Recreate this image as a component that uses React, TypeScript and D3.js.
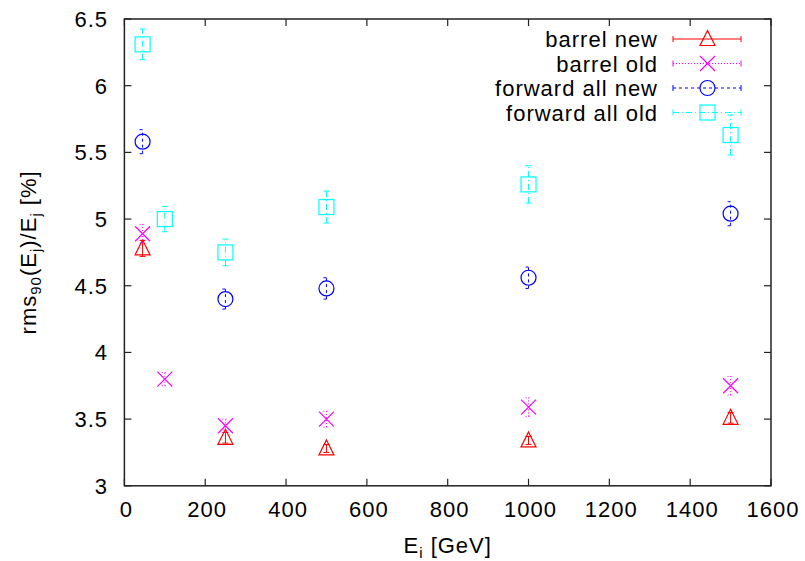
import React from "react";
import {scaleLinear, range} from "d3";

// energies [GeV], rms90/E [%] and errors for each series
const barrelNewE = [45, 250, 500, 1000, 1500];
const barrelNewRms = [4.78, 3.36, 3.28, 3.34, 3.51];
const barrelNewErr = [0.06, 0.04, 0.03, 0.03, 0.04];

const barrelOldE = [45, 100, 250, 500, 1000, 1500];
const barrelOldRms = [4.89, 3.80, 3.45, 3.50, 3.59, 3.75];
const barrelOldErr = [0.07, 0.05, 0.05, 0.06, 0.07, 0.07];

const fwdNewE = [45, 250, 500, 1000, 1500];
const fwdNewRms = [5.58, 4.40, 4.48, 4.56, 5.04];
const fwdNewErr = [0.09, 0.075, 0.08, 0.08, 0.09];

const fwdOldE = [45, 100, 250, 500, 1000, 1500];
const fwdOldRms = [6.31, 5.00, 4.75, 5.09, 5.26, 5.63];
const fwdOldErr = [0.115, 0.095, 0.1, 0.12, 0.14, 0.15];

const xTicks = [0, 200, 400, 600, 800, 1000, 1200, 1400, 1600];
const yTicks = [3, 3.5, 4, 4.5, 5, 5.5, 6, 6.5];

const series = [
  {name: "barrel new", color: "#ff0000", dash: "none", marker: "triangle", e: barrelNewE, v: barrelNewRms, err: barrelNewErr},
  {name: "barrel old", color: "#ff00ff", dash: "1,2", marker: "cross", e: barrelOldE, v: barrelOldRms, err: barrelOldErr},
  {name: "forward all new", color: "#0000ff", dash: "3,3", marker: "circle", e: fwdNewE, v: fwdNewRms, err: fwdNewErr},
  {name: "forward all old", color: "#00ffff", dash: "6,3,1,3", marker: "square", e: fwdOldE, v: fwdOldRms, err: fwdOldErr},
];

const FONT = "Liberation Sans, Arial, Helvetica, sans-serif";

function Marker({type, x, y, color}) {
  const s = 7.5;
  if (type === "triangle") {
    return <path d={`M${x},${y - s - 1}L${x + s},${y + s - 1}L${x - s},${y + s - 1}Z`} fill="none" stroke={color} strokeWidth={1.2}/>;
  }
  if (type === "cross") {
    return <path d={`M${x - s},${y - s}L${x + s},${y + s}M${x - s},${y + s}L${x + s},${y - s}`} stroke={color} strokeWidth={1.2}/>;
  }
  if (type === "circle") {
    return <circle cx={x} cy={y} r={s} fill="none" stroke={color} strokeWidth={1.2}/>;
  }
  return <rect x={x - s} y={y - s} width={2 * s} height={2 * s} fill="none" stroke={color} strokeWidth={1.2}/>;
}

export default function App() {
  const width = 805;
  const height = 561;
  const left = 124.4, right = 771, top = 19, bottom = 485.8;

  const xScale = scaleLinear().domain([0, 1600]).range([left, right]);
  const yScale = scaleLinear().domain([3, 6.5]).range([bottom, top]);
  const tick = 7;
  const cap = 3;

  const legendY = range(series.length).map(i => 39 + i * 24.5);

  return (
    <svg width={width} height={height} style={{position: "absolute", left: 0, top: 0, background: "white"}} fontFamily={FONT}>
      {/* ticks on all four sides */}
      {xTicks.map(t => (
        <g key={"x" + t}>
          <line x1={xScale(t)} x2={xScale(t)} y1={bottom} y2={bottom - tick} stroke="#222" strokeWidth={1.2}/>
          <line x1={xScale(t)} x2={xScale(t)} y1={top} y2={top + tick} stroke="#222" strokeWidth={1.2}/>
          <text x={xScale(t) + 2} y={bottom + 31} textAnchor="middle" fontSize={22} letterSpacing={1}>{t}</text>
        </g>
      ))}
      {yTicks.map(t => (
        <g key={"y" + t}>
          <line x1={left} x2={left + tick} y1={yScale(t)} y2={yScale(t)} stroke="#222" strokeWidth={1.2}/>
          <line x1={right} x2={right - tick} y1={yScale(t)} y2={yScale(t)} stroke="#222" strokeWidth={1.2}/>
          <text x={108} y={yScale(t) + 8} textAnchor="end" fontSize={22} letterSpacing={1}>{t}</text>
        </g>
      ))}
      <rect x={left} y={top} width={right - left} height={bottom - top} fill="none" stroke="#222" strokeWidth={1.5}/>

      {/* data */}
      {series.map(s => (
        <g key={s.name}>
          {s.e.map((e, i) => {
            const x = xScale(e);
            const y0 = yScale(s.v[i] - s.err[i]);
            const y1 = yScale(s.v[i] + s.err[i]);
            return (
              <g key={e}>
                <line x1={x} x2={x} y1={y0} y2={y1} stroke={s.color} strokeWidth={1} strokeDasharray={s.dash}/>
                <line x1={x - cap} x2={x + cap} y1={y0} y2={y0} stroke={s.color} strokeWidth={1} strokeDasharray={s.dash}/>
                <line x1={x - cap} x2={x + cap} y1={y1} y2={y1} stroke={s.color} strokeWidth={1} strokeDasharray={s.dash}/>
                <Marker type={s.marker} x={x} y={yScale(s.v[i])} color={s.color}/>
              </g>
            );
          })}
        </g>
      ))}

      {/* legend */}
      {series.map((s, i) => (
        <g key={"leg" + s.name}>
          <text x={658} y={legendY[i] + 8} textAnchor="end" fontSize={22} letterSpacing={1}>{s.name}</text>
          <line x1={673} x2={741} y1={legendY[i]} y2={legendY[i]} stroke={s.color} strokeWidth={1} strokeDasharray={s.dash}/>
          <line x1={673} x2={673} y1={legendY[i] - 3} y2={legendY[i] + 3} stroke={s.color} strokeWidth={1}/>
          <line x1={741} x2={741} y1={legendY[i] - 3} y2={legendY[i] + 3} stroke={s.color} strokeWidth={1}/>
          <Marker type={s.marker} x={707.5} y={legendY[i]} color={s.color}/>
        </g>
      ))}

      {/* axis labels */}
      <text x={(left + right) / 2} y={553} textAnchor="middle" fontSize={22} letterSpacing={1}>
        E<tspan fontSize={15} dy={5}>i</tspan><tspan dy={-5}> [GeV]</tspan>
      </text>
      <text transform={`translate(36, ${(top + bottom) / 2}) rotate(-90)`} textAnchor="middle" fontSize={22} letterSpacing={1}>
        rms<tspan fontSize={15} dy={5}>90</tspan><tspan dy={-5}>(E</tspan><tspan fontSize={15} dy={5}>j</tspan><tspan dy={-5}>)/E</tspan><tspan fontSize={15} dy={5}>j</tspan><tspan dy={-5}> [%]</tspan>
      </text>
    </svg>
  );
}
